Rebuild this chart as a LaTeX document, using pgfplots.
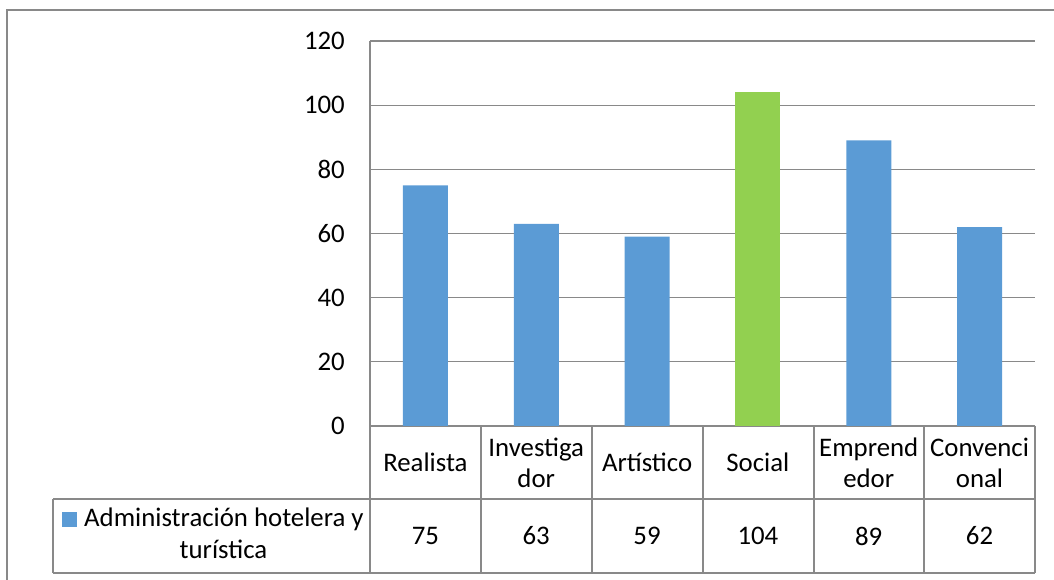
\documentclass[border=0pt]{standalone}
\usepackage{fontspec}
\setmainfont{Carlito}
\usepackage{pgfplots}
\pgfplotsset{compat=1.18}
\definecolor{barblue}{HTML}{5B9BD5}
\definecolor{bargreen}{HTML}{92D050}
\definecolor{gridgray}{HTML}{898989}
\begin{document}
\begin{tikzpicture}[font=\fontsize{26.8bp}{31bp}\selectfont]
\path[use as bounding box] (0,0) rectangle (1054bp,580bp);
\begin{axis}[
  at={(370bp,154bp)}, anchor=south west,
  scale only axis, width=665bp, height=385bp,
  xmin=-0.5, xmax=5.5, ymin=0, ymax=120,
  ytick={0,20,...,120}, xtick=\empty,
  axis line style={draw=none},
  ymajorgrids, major grid style={gridgray, line width=1.3bp},
  tick pos=left, major tick length=0pt, ytick style={draw=none},
  /pgf/number format/assume math mode=true,
  yticklabel style={font=\fontsize{26.8bp}{31bp}\selectfont, anchor=east, inner sep=0pt, xshift=-25bp},
  ybar, bar width=45bp, bar shift=0pt,
  clip=false,
]
\addplot[fill=barblue, draw=none] coordinates {(0,75) (1,63) (2,59) (4,89) (5,62)};
\addplot[fill=bargreen, draw=none] coordinates {(3,104)};
\end{axis}
% value axis line continuing into the data table
\draw[gridgray, line width=1.3bp] (370bp,539bp) -- (370bp,7bp);
% data table
\draw[gridgray, line width=1.3bp] (53bp,81bp) -- (1035bp,81bp);
\draw[gridgray, line width=1.3bp] (53bp,7bp) -- (1035bp,7bp);
\draw[gridgray, line width=1.3bp] (53bp,81bp) -- (53bp,7bp);
\foreach \x in {481,592,703,814,924,1035} {
  \draw[gridgray, line width=1.3bp] (\x bp,154bp) -- (\x bp,7bp);
}
\foreach \name [count=\i from 0] in {Realista,{Investiga\\dor},Artístico,Social,{Emprend\\edor},{Convenci\\onal}} {
  \node[align=center, inner sep=0pt] at ({425.4bp+110.83bp*\i},117.5bp) {\name};
}
\foreach \v [count=\i from 0] in {75,63,59,104,89,62} {
  \node[inner sep=0pt] at ({425.4bp+110.83bp*\i},44bp) {\v};
}
% legend cell
\fill[barblue] (62bp,53bp) rectangle (77bp,68bp);
\node[anchor=base west, inner sep=0pt] at (84bp,53bp) {Administración hotelera y};
\node[anchor=base, inner sep=0pt] at (223.5bp,22bp) {turística};
% chart border
\draw[gridgray, line width=1.5bp] (7bp,0bp) -- (7bp,570bp) -- (1054bp,570bp);
\end{tikzpicture}
\end{document}
